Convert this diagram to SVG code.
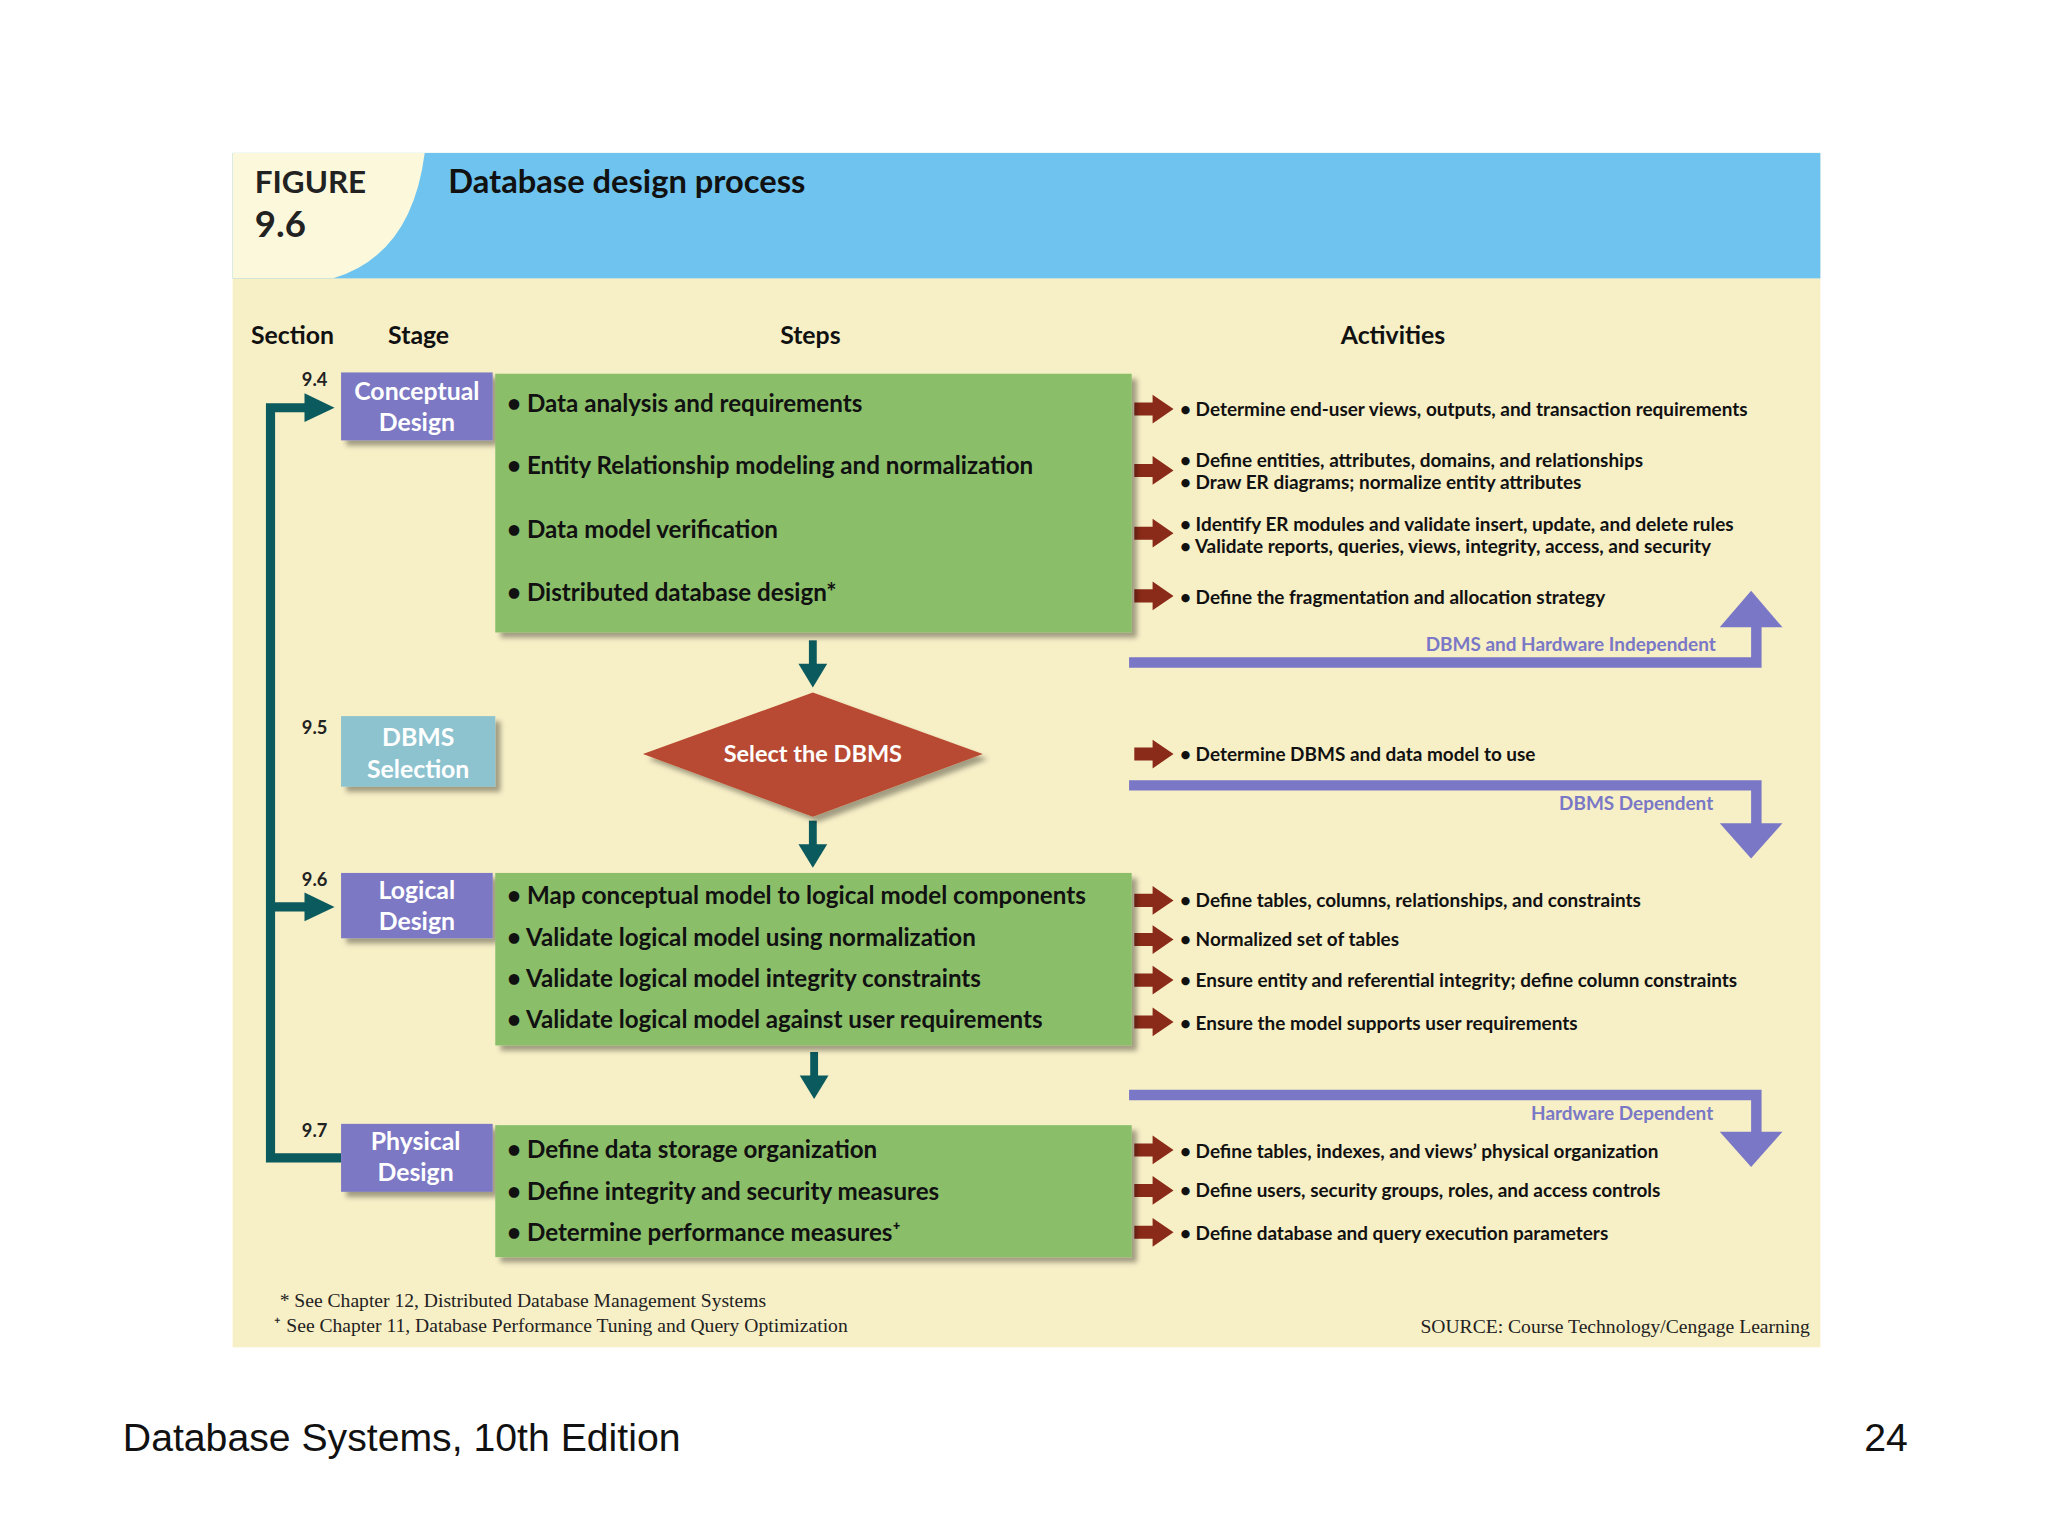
<svg xmlns="http://www.w3.org/2000/svg" width="2048" height="1536" viewBox="0 0 2048 1536">
<defs>
<style>
.f{font-family:Lato,"Open Sans",sans-serif;font-weight:bold}
.st{fill:#fff;font-size:19px;text-anchor:middle}
.step{font-size:18.5px;fill:#111}
.act{font-size:14.5px;fill:#111}
.hd{font-size:19px;fill:#111}
.band{font-size:14.5px;fill:#7a78c6;text-anchor:end}
.note{font-family:"Liberation Serif",serif;font-size:15px;fill:#222}
.ra{fill:#8a2a18}
.tl{fill:#0b5a5e}
</style>
<filter id="sh" x="-10%" y="-10%" width="130%" height="130%"><feDropShadow dx="4" dy="4" stdDeviation="2" flood-color="#000" flood-opacity="0.35"/></filter>
<g id="ra"><polygon class="ra" points="0,-5 14,-5 14,-11 30,0 14,11 14,5 0,5"/></g>
<g id="da"><rect class="tl" x="-3" y="0" width="6" height="20"/><polygon class="tl" points="-11,18 11,18 0,36"/></g>
</defs>
<rect width="2048" height="1536" fill="#fff"/>
<g transform="scale(1.3068)">
<rect x="178" y="117" width="1215" height="914" fill="#f7efc6"/>
<rect x="178" y="117" width="1215" height="96" fill="#6ec4ee"/>
<path d="M178,117 H325 Q315,195 255,213 H178 Z" fill="#fbf8dc"/>
<text class="f" x="195" y="148" font-size="24" fill="#222">FIGURE</text>
<text class="f" x="195" y="181" font-size="28" fill="#222">9.6</text>
<text class="f" x="343" y="148" font-size="25" fill="#111">Database design process</text>
<g class="f hd"><text x="192" y="263">Section</text><text x="297" y="263">Stage</text><text x="597" y="263">Steps</text><text x="1026" y="263">Activities</text></g>
<g class="f" font-size="14" fill="#222"><text x="231" y="295">9.4</text><text x="231" y="562">9.5</text><text x="231" y="678">9.6</text><text x="231" y="870">9.7</text></g>

<g id="connectors">
<path d="M261,886 H207 V312 H236" fill="none" stroke="#0b5a5e" stroke-width="7"/>
<path d="M207,694 H236" stroke="#0b5a5e" stroke-width="7"/>
<polygon class="tl" points="233,301 256,312 233,323"/>
<polygon class="tl" points="233,683 256,694 233,705"/>
<use href="#da" x="622" y="490"/>
<use href="#da" x="622" y="628"/>
<use href="#da" x="623" y="805"/>
<use href="#ra" x="868" y="313"/><use href="#ra" x="868" y="360"/><use href="#ra" x="868" y="408"/><use href="#ra" x="868" y="456"/>
<use href="#ra" x="868" y="577"/>
<use href="#ra" x="868" y="689"/><use href="#ra" x="868" y="719"/><use href="#ra" x="868" y="750"/><use href="#ra" x="868" y="782"/>
<use href="#ra" x="868" y="880"/><use href="#ra" x="868" y="911"/><use href="#ra" x="868" y="943"/>
<path d="M864,507 H1344 V478" fill="none" stroke="#7a78c6" stroke-width="8"/>
<polygon points="1316,480 1340,452 1364,480" fill="#7a78c6"/>
<path d="M864,601 H1344 V632" fill="none" stroke="#7a78c6" stroke-width="8"/>
<polygon points="1316,630 1340,657 1364,630" fill="#7a78c6"/>
<path d="M864,838 H1344 V868" fill="none" stroke="#7a78c6" stroke-width="8"/>
<polygon points="1316,866 1340,893 1364,866" fill="#7a78c6"/>
</g>
<g class="f band"><text x="1313" y="498">DBMS and Hardware Independent</text><text x="1311" y="620">DBMS Dependent</text><text x="1311" y="857">Hardware Dependent</text></g>

<g id="conceptual"><rect x="261" y="285" width="116" height="52" fill="#7b78c4" filter="url(#sh)"/><text class="f st" x="319" y="306">Conceptual</text><text class="f st" x="319" y="330">Design</text></g>
<g id="dbmssel"><rect x="261" y="548" width="118" height="54" fill="#8dc3cf" filter="url(#sh)"/><text class="f st" x="320" y="571">DBMS</text><text class="f st" x="320" y="595">Selection</text></g>
<g id="logical"><rect x="261" y="668" width="116" height="50" fill="#7b78c4" filter="url(#sh)"/><text class="f st" x="319" y="688">Logical</text><text class="f st" x="319" y="712">Design</text></g>
<g id="physical"><rect x="261" y="860" width="116" height="52" fill="#7b78c4" filter="url(#sh)"/><text class="f st" x="318" y="880">Physical</text><text class="f st" x="318" y="904">Design</text></g>

<g id="steps1"><rect x="379" y="286" width="487" height="198" fill="#8bbe69" filter="url(#sh)"/>
<g class="f step"><text x="388" y="315">• Data analysis and requirements</text><text x="388" y="363">• Entity Relationship modeling and normalization</text><text x="388" y="412">• Data model verification</text><text x="388" y="460">• Distributed database design*</text></g></g>
<g id="select"><polygon points="622,530 752,577 622,625 492,577" fill="#b84a30" filter="url(#sh)"/><text class="f" x="622" y="583" font-size="18" fill="#fff" text-anchor="middle">Select the DBMS</text></g>
<g id="steps2"><rect x="379" y="668" width="487" height="132" fill="#8bbe69" filter="url(#sh)"/>
<g class="f step"><text x="388" y="692">• Map conceptual model to logical model components</text><text x="388" y="724">• Validate logical model using normalization</text><text x="388" y="755">• Validate logical model integrity constraints</text><text x="388" y="787">• Validate logical model against user requirements</text></g></g>
<g id="steps3"><rect x="379" y="861" width="487" height="101" fill="#8bbe69" filter="url(#sh)"/>
<g class="f step"><text x="388" y="886">• Define data storage organization</text><text x="388" y="918">• Define integrity and security measures</text><text x="388" y="950">• Determine performance measures⁺</text></g></g>

<g class="f act">
<text x="903" y="318">• Determine end-user views, outputs, and transaction requirements</text>
<text x="903" y="357">• Define entities, attributes, domains, and relationships</text>
<text x="903" y="374">• Draw ER diagrams; normalize entity attributes</text>
<text x="903" y="406">• Identify ER modules and validate insert, update, and delete rules</text>
<text x="903" y="423">• Validate reports, queries, views, integrity, access, and security</text>
<text x="903" y="462">• Define the fragmentation and allocation strategy</text>
<text x="903" y="582">• Determine DBMS and data model to use</text>
<text x="903" y="694">• Define tables, columns, relationships, and constraints</text>
<text x="903" y="724">• Normalized set of tables</text>
<text x="903" y="755">• Ensure entity and referential integrity; define column constraints</text>
<text x="903" y="788">• Ensure the model supports user requirements</text>
<text x="903" y="886">• Define tables, indexes, and views’ physical organization</text>
<text x="903" y="916">• Define users, security groups, roles, and access controls</text>
<text x="903" y="949">• Define database and query execution parameters</text>
</g>
<text class="note" x="214" y="1000">* See Chapter 12, Distributed Database Management Systems</text>
<text class="note" x="210" y="1019">⁺ See Chapter 11, Database Performance Tuning and Query Optimization</text>
<text class="note" x="1385" y="1020" text-anchor="end">SOURCE: Course Technology/Cengage Learning</text>
<text x="94" y="1110" font-family="Liberation Sans,Arial,sans-serif" font-size="30" fill="#111">Database Systems, 10th Edition</text>
<text x="1460" y="1110" font-family="Liberation Sans,Arial,sans-serif" font-size="30" fill="#111" text-anchor="end">24</text>
</g>
</svg>
